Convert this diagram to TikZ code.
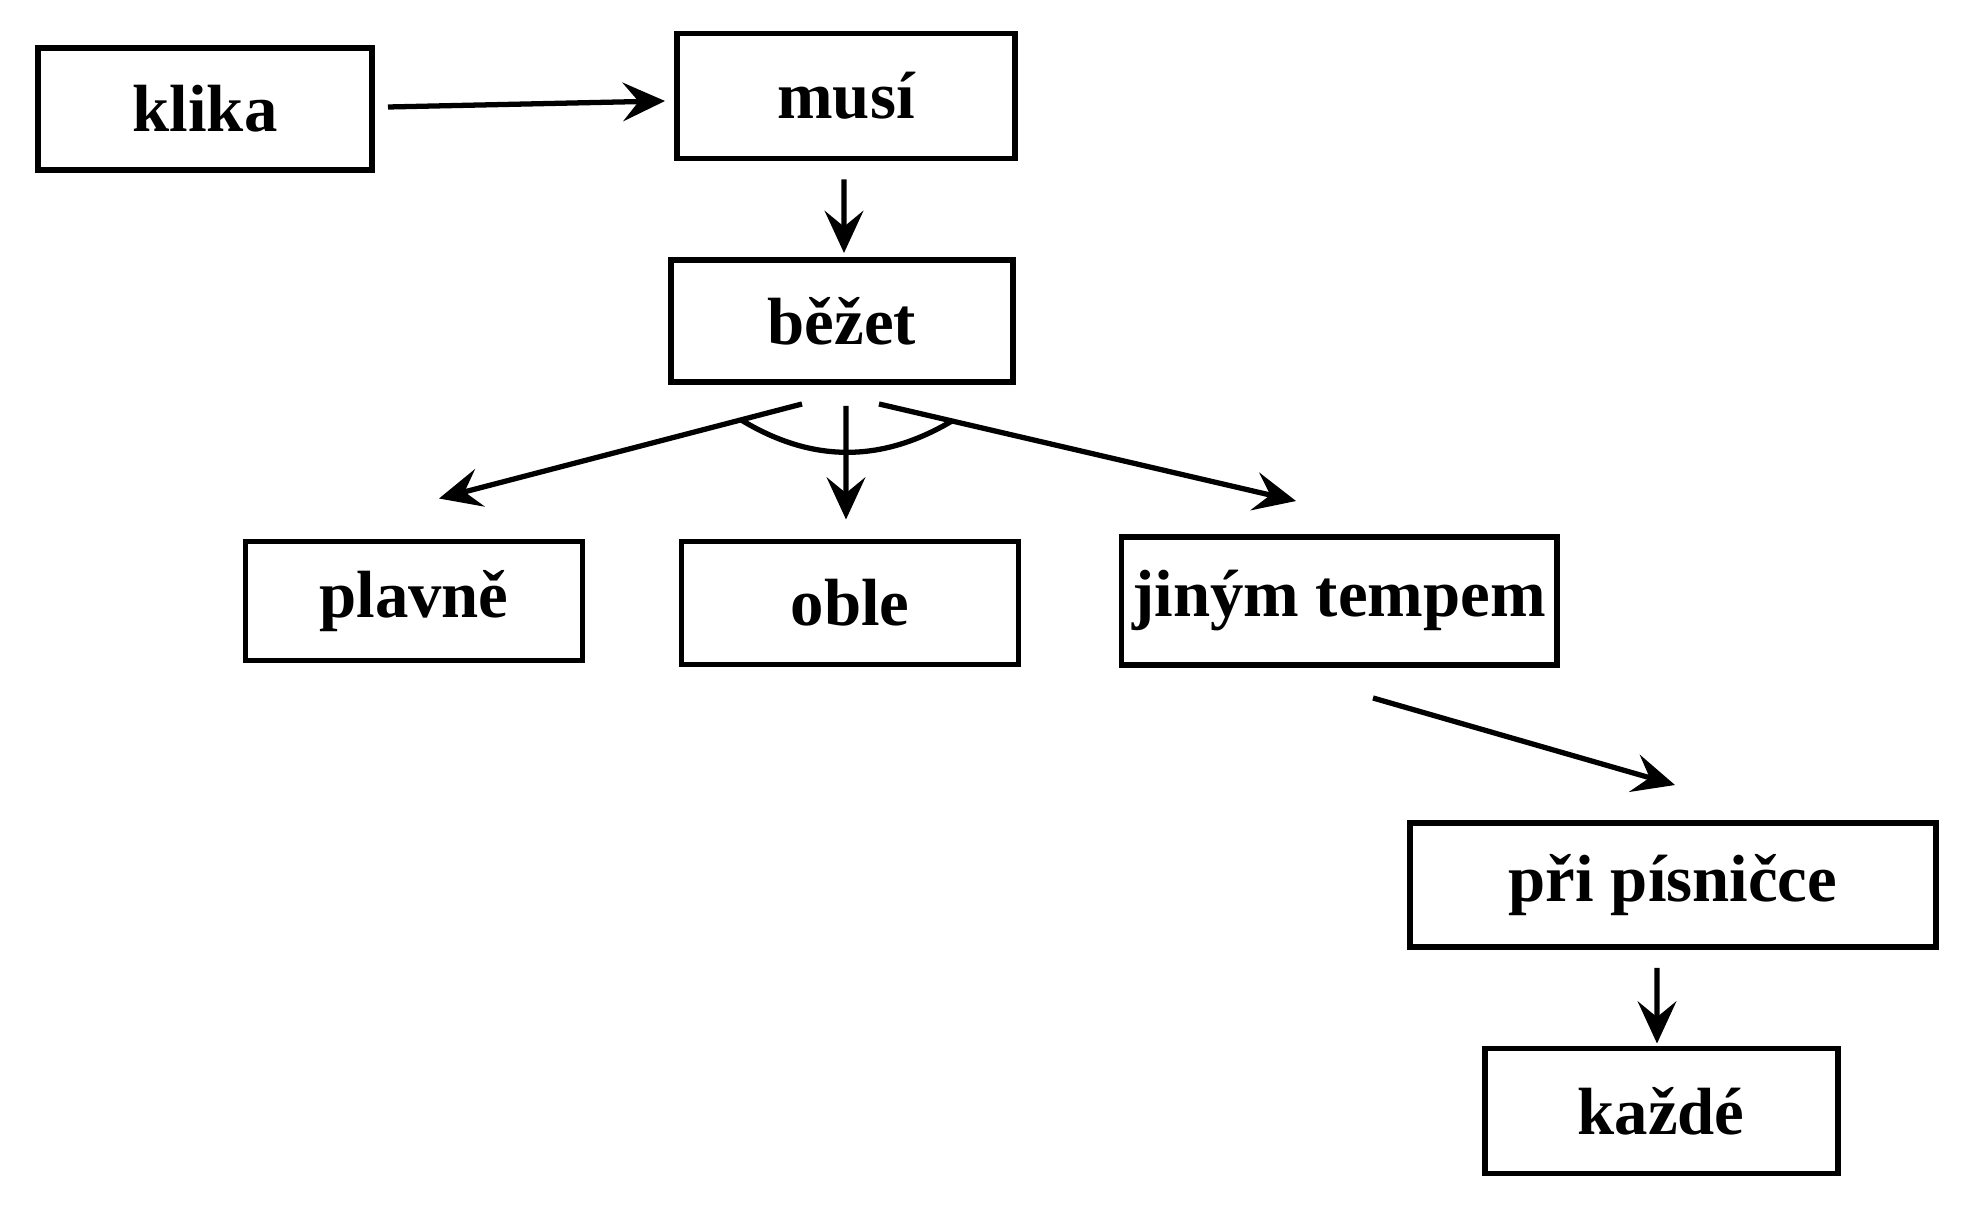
\documentclass[tikz,border=0pt]{standalone}
\usepackage{fontspec}
\setmainfont{Liberation Serif}
\usetikzlibrary{arrows}
\usetikzlibrary{arrows.meta}
\usetikzlibrary{calc}
\tikzset{>={Stealth[length=12pt,width=11pt,inset=4.5pt]}}
\newcommand\boxwd{1.7pt}
\newcommand\linewd{1.5pt}
\tikzstyle{word}  = [draw, line width=\boxwd, inner sep=0pt,
                     font=\fontsize{19}{22}\selectfont\bfseries]
\tikzstyle{link}  = [->, line width=\linewd]
\tikzstyle{joint} = [line width=\linewd]

\begin{document}
\begin{tikzpicture}
  \useasboundingbox (0,0) rectangle (19.77,-12.10);
  % boxes
  \node[word, minimum width=3.34cm, minimum height=1.22cm] (klika)  at (2.05,-1.09)  {klika};
  \node[word, minimum width=3.38cm, minimum height=1.25cm] (musi)   at (8.46,-0.96)  {musí};
  \node[word, minimum width=3.42cm, minimum height=1.22cm] (bezet)  at (8.42,-3.21)  {běžet};
  \node[word, minimum width=3.37cm, minimum height=1.19cm] (plavne) at (4.14,-6.01)  {plavně};
  \node[word, minimum width=3.37cm, minimum height=1.23cm] (oble)   at (8.50,-6.03)  {oble};
  \node[word, minimum width=4.35cm, minimum height=1.28cm] (jinym)  at (13.39,-6.01) {jiným tempem};
  \node[word, minimum width=5.26cm, minimum height=1.24cm] (pri)    at (16.73,-8.85) {při písničce};
  \node[word, minimum width=3.53cm, minimum height=1.25cm] (kazde)  at (16.61,-11.11) {každé};
  % arrows
  \draw[link] ([xshift=.13cm,yshift=.02cm]klika.east) -- ([xshift=-.09cm,yshift=-.05cm]musi.west);
  \draw[link] ([xshift=-.02cm,yshift=-.18cm]musi.south) -- ([xshift=.02cm,yshift=.04cm]bezet.north);
  \draw[link] ([xshift=-.40cm,yshift=-.19cm]bezet.south)
    -- coordinate[pos=.168] (leftcut) ([xshift=.25cm,yshift=.40cm]plavne.north);
  \draw[link] ([xshift=.04cm,yshift=-.21cm]bezet.south) -- ([xshift=-.04cm,yshift=.19cm]oble.north);
  \draw[link] ([xshift=.37cm,yshift=-.19cm]bezet.south)
    -- coordinate[pos=.175] (rightcut) ([xshift=-.43cm,yshift=.33cm]jinym.north);
  \draw[link] ([xshift=.34cm,yshift=-.30cm]jinym.south) -- ([xshift=.02cm,yshift=.35cm]pri.north);
  \draw[link] ([xshift=-.16cm,yshift=-.18cm]pri.south) -- ([xshift=-.04cm,yshift=.02cm]kazde.north);
  % the arc joining the three
  \draw[joint] (leftcut) to[bend right=31] (rightcut);
\end{tikzpicture}
\end{document}
